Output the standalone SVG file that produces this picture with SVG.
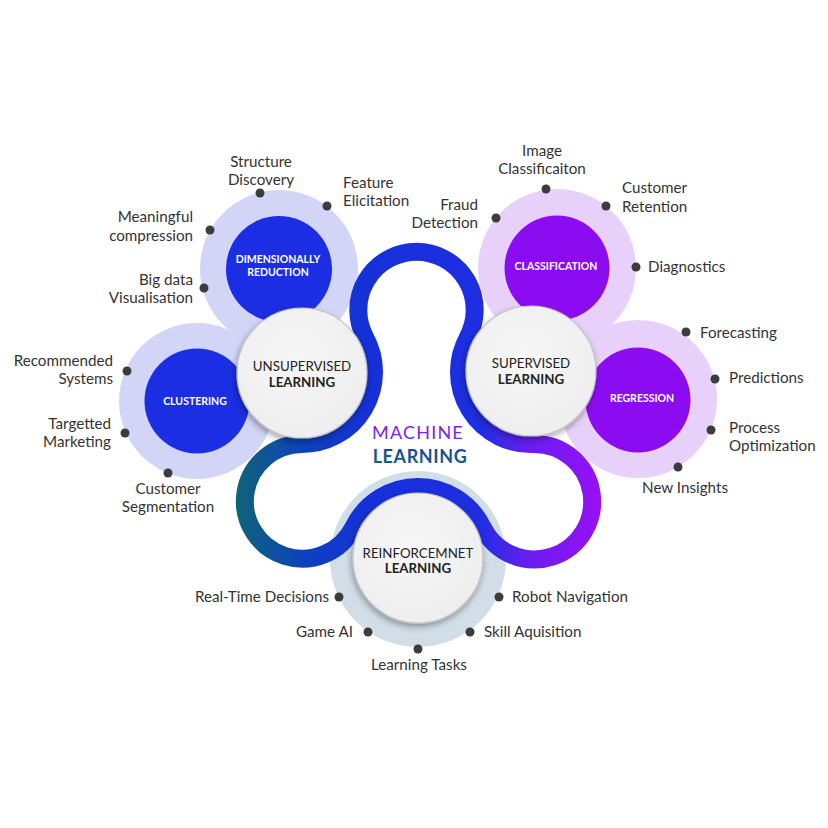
<svg xmlns="http://www.w3.org/2000/svg" width="828" height="828" viewBox="0 0 828 828">
<defs>
<linearGradient id="ribbon" gradientUnits="userSpaceOnUse" x1="235" y1="0" x2="605" y2="0">
<stop offset="0" stop-color="#0f6477"/>
<stop offset="0.18" stop-color="#0c43bc"/>
<stop offset="0.35" stop-color="#1530d8"/>
<stop offset="0.66" stop-color="#1e2ee2"/>
<stop offset="0.8" stop-color="#6a1ef0"/>
<stop offset="1" stop-color="#9c0ff5"/>
</linearGradient>
<linearGradient id="gMachine" x1="0" y1="0" x2="0" y2="1">
<stop offset="0" stop-color="#9412f3"/>
<stop offset="1" stop-color="#6530e4"/>
</linearGradient>
<linearGradient id="gLearning" x1="0" y1="0" x2="0" y2="1">
<stop offset="0" stop-color="#1c3fa6"/>
<stop offset="1" stop-color="#136580"/>
</linearGradient>
<radialGradient id="gWhite" cx="0.45" cy="0.4" r="0.65">
<stop offset="0" stop-color="#f7f7f7"/>
<stop offset="1" stop-color="#ededed"/>
</radialGradient>
<filter id="shadow" x="-30%" y="-30%" width="160%" height="160%">
<feDropShadow dx="-1" dy="3" stdDeviation="3" flood-color="#000" flood-opacity="0.35"/>
</filter>
</defs>
<style>
.ringB{fill:#d2d5f6}
.ringP{fill:#e7d1fa}
.ringR{fill:#d1dee7}
.coreB{fill:#1b2ee3}
.coreP{fill:#8c0cf2}
.white{fill:url(#gWhite);stroke:#c4c4c4;stroke-width:1.2;filter:url(#shadow)}
.core{font-family:Lato,"Open Sans",sans-serif;font-weight:700;font-size:10.5px;fill:#ffffff;text-anchor:middle}
.main{font-family:Lato,"Open Sans",sans-serif;font-size:13.3px;fill:#222;text-anchor:middle}
.b{font-weight:700}
.lbl{font-family:Lato,"Open Sans",sans-serif;font-size:15.2px;fill:#333}
.dot{fill:#3c3c3c}
.end{text-anchor:end}
.mid{text-anchor:middle}
.title{font-family:Lato,"Open Sans",sans-serif;font-size:18px;text-anchor:middle}
</style>

<g id="rings">
<circle class="ringB" cx="279" cy="269" r="79"/>
<circle class="ringB" cx="197" cy="401" r="78"/>
<circle class="ringP" cx="557" cy="268" r="79"/>
<circle class="ringP" cx="638" cy="399" r="79"/>
<circle class="ringR" cx="418" cy="559" r="88"/>
</g>

<g id="dimensionally-reduction">
<circle class="coreB" cx="279" cy="269" r="53"/>
<text class="core" x="278" y="263">DIMENSIONALLY</text>
<text class="core" x="278" y="276">REDUCTION</text>
</g>
<g id="clustering">
<circle class="coreB" cx="197" cy="401" r="52.5"/>
<text class="core" x="195" y="405">CLUSTERING</text>
</g>
<g id="classification">
<circle class="coreP" cx="557" cy="268" r="52.5"/>
<text class="core" x="556" y="270">CLASSIFICATION</text>
</g>
<g id="regression">
<circle class="coreP" cx="638" cy="400" r="52.5"/>
<text class="core" x="642" y="402">REGRESSION</text>
</g>

<g id="connectors">
<path d="M 365.32 337.71 A 58.2 58.2 0 1 1 467.68 337.71 A 72 72 0 0 0 532.89 443.97 A 57.75 57.75 0 1 1 482.59 527.21 A 72 72 0 0 0 353.55 526.91 A 57.35 57.35 0 1 1 302.12 443.99 A 72 72 0 0 0 365.32 337.71 Z" fill="none" stroke="url(#ribbon)" stroke-width="18"/>
</g>

<g id="unsupervised-learning">
<circle class="white" cx="302" cy="373" r="65"/>
<text class="main" x="302" y="371">UNSUPERVISED</text>
<text class="main b" x="302" y="387">LEARNING</text>
</g>
<g id="supervised-learning">
<circle class="white" cx="531" cy="371" r="65"/>
<text class="main" x="531" y="368">SUPERVISED</text>
<text class="main b" x="531" y="384">LEARNING</text>
</g>
<g id="reinforcement-learning">
<circle class="white" cx="418" cy="558" r="65"/>
<text class="main" x="418" y="558">REINFORCEMNET</text>
<text class="main b" x="418" y="573">LEARNING</text>
</g>

<g id="machine-learning">
<text class="title" x="418" y="439" letter-spacing="1.2" fill="url(#gMachine)">MACHINE</text>
<text class="title" x="420" y="463" letter-spacing="0.6" font-weight="700" fill="url(#gLearning)">LEARNING</text>
</g>

<g id="structure-discovery">
<circle class="dot" cx="260" cy="193" r="4.5"/>
<text class="lbl mid" x="261" y="167">Structure</text>
<text class="lbl mid" x="261" y="185">Discovery</text>
</g>
<g id="feature-elicitation">
<circle class="dot" cx="327" cy="206" r="4.5"/>
<text class="lbl" x="343" y="188">Feature</text>
<text class="lbl" x="343" y="206">Elicitation</text>
</g>
<g id="meaningful-compression">
<circle class="dot" cx="210" cy="230" r="4.5"/>
<text class="lbl end" x="193" y="222">Meaningful</text>
<text class="lbl end" x="193" y="241">compression</text>
</g>
<g id="big-data-visualisation">
<circle class="dot" cx="204" cy="288" r="4.5"/>
<text class="lbl end" x="193" y="285">Big data</text>
<text class="lbl end" x="193" y="303">Visualisation</text>
</g>

<g id="recommended-systems">
<circle class="dot" cx="127" cy="371" r="4.5"/>
<text class="lbl end" x="113" y="366">Recommended</text>
<text class="lbl end" x="113" y="384">Systems</text>
</g>
<g id="targetted-marketing">
<circle class="dot" cx="125" cy="433" r="4.5"/>
<text class="lbl end" x="111" y="429">Targetted</text>
<text class="lbl end" x="111" y="447">Marketing</text>
</g>
<g id="customer-segmentation">
<circle class="dot" cx="168" cy="473" r="4.5"/>
<text class="lbl mid" x="168" y="494">Customer</text>
<text class="lbl mid" x="168" y="512">Segmentation</text>
</g>

<g id="image-classification">
<circle class="dot" cx="546" cy="189" r="4.5"/>
<text class="lbl mid" x="542" y="156">Image</text>
<text class="lbl mid" x="542" y="174">Classificaiton</text>
</g>
<g id="fraud-detection">
<circle class="dot" cx="496" cy="218" r="4.5"/>
<text class="lbl end" x="478" y="210">Fraud</text>
<text class="lbl end" x="478" y="228">Detection</text>
</g>
<g id="customer-retention">
<circle class="dot" cx="606" cy="206" r="4.5"/>
<text class="lbl" x="622" y="193">Customer</text>
<text class="lbl" x="622" y="212">Retention</text>
</g>
<g id="diagnostics">
<circle class="dot" cx="636" cy="267" r="4.5"/>
<text class="lbl" x="648" y="272">Diagnostics</text>
</g>

<g id="forecasting">
<circle class="dot" cx="686" cy="332" r="4.5"/>
<text class="lbl" x="700" y="338">Forecasting</text>
</g>
<g id="predictions">
<circle class="dot" cx="715" cy="379" r="4.5"/>
<text class="lbl" x="729" y="383">Predictions</text>
</g>
<g id="process-optimization">
<circle class="dot" cx="711" cy="430" r="4.5"/>
<text class="lbl" x="729" y="433">Process</text>
<text class="lbl" x="729" y="451">Optimization</text>
</g>
<g id="new-insights">
<circle class="dot" cx="678" cy="467" r="4.5"/>
<text class="lbl mid" x="685" y="493">New Insights</text>
</g>

<g id="real-time-decisions">
<circle class="dot" cx="339" cy="597" r="4.5"/>
<text class="lbl end" x="329" y="602">Real-Time Decisions</text>
</g>
<g id="game-ai">
<circle class="dot" cx="368" cy="632" r="4.5"/>
<text class="lbl end" x="353" y="637">Game AI</text>
</g>
<g id="learning-tasks">
<circle class="dot" cx="418" cy="649" r="4.5"/>
<text class="lbl mid" x="419" y="670">Learning Tasks</text>
</g>
<g id="robot-navigation">
<circle class="dot" cx="499" cy="597" r="4.5"/>
<text class="lbl" x="512" y="602">Robot Navigation</text>
</g>
<g id="skill-aquisition">
<circle class="dot" cx="470" cy="632" r="4.5"/>
<text class="lbl" x="484" y="637">Skill Aquisition</text>
</g>
</svg>
